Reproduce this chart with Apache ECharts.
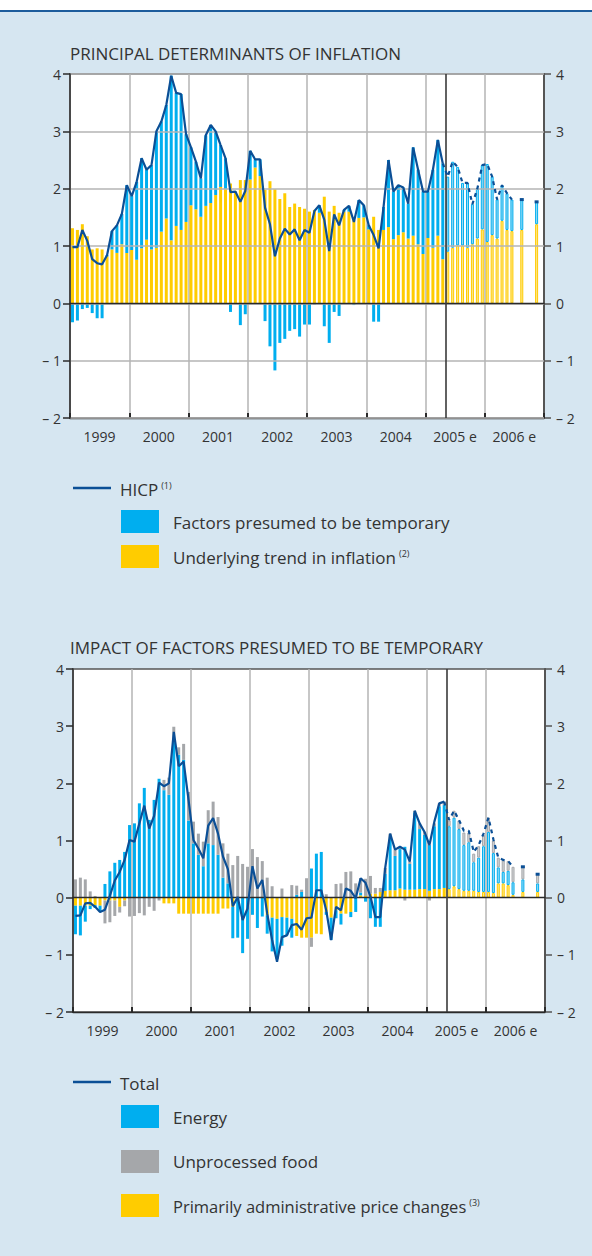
<!DOCTYPE html>
<html>
<head>
<meta charset="utf-8">
<script src="https://cdn.jsdelivr.net/npm/echarts@6/dist/echarts.min.js"></script>
<style>
html,body{margin:0;padding:0;background:#d6e6f1;}
#c{width:592px;height:1256px;}
</style>
</head>
<body>
<div id="c"></div>
<script>
// ---------- data ----------
const years = [1999, 2000, 2001, 2002, 2003, 2004, 2005, 2006];
const yearLabels = ['1999', '2000', '2001', '2002', '2003', '2004', '2005 e', '2006 e'];
const monthNames = ['Jan','Feb','Mar','Apr','May','Jun','Jul','Aug','Sep','Oct','Nov','Dec'];
const yTickLabels = ['– 2', '– 1', '0', '1', '2', '3', '4'];
const forecastStart = 76; // May 2005

// Panel 1: principal determinants of inflation
const underlyingTrend = [
 1.31,1.28,1.38,1.17,0.94,0.96,0.94,0.82,0.94,0.88,1.03,0.88,
 0.93,0.76,0.96,1.11,0.94,0.97,1.25,1.48,1.10,1.35,1.28,1.42,
 1.71,1.64,1.51,1.70,1.75,1.89,2.03,1.99,2.09,1.95,2.15,2.15,
 2.16,2.37,2.22,1.98,2.13,1.99,1.82,1.92,1.68,1.74,1.68,1.65,
 1.60,1.63,1.58,1.86,1.60,1.70,1.58,1.60,1.60,1.45,1.49,1.50,
 1.29,1.51,1.28,1.28,1.33,1.12,1.19,1.24,1.13,1.18,1.03,0.86,
 1.14,0.97,1.18,0.77,0.90,0.97,1.01,1.01,0.97,1.03,1.13,1.29,
 1.07,1.19,1.13,1.44,1.28,1.26,null,1.28,null,null,1.38,null];
const temporaryFactors = [
 -0.33,-0.30,-0.10,-0.08,-0.17,-0.26,-0.26,0.02,0.32,0.48,0.53,1.18,
 0.94,1.36,1.57,1.22,1.47,2.03,1.92,1.98,2.87,2.32,2.37,1.53,
 1.01,0.83,0.67,1.23,1.36,1.11,0.73,0.54,-0.15,0.00,-0.38,-0.19,
 0.50,0.14,0.29,-0.31,-0.75,-1.17,-0.69,-0.62,-0.48,-0.45,-0.58,-0.37,
 -0.37,-0.02,0.13,-0.40,-0.69,-0.15,-0.22,0.03,0.10,-0.03,0.31,0.21,
 0.07,-0.32,-0.32,0.40,1.17,0.83,0.87,0.78,0.61,1.54,1.30,1.09,
 0.81,1.36,1.67,1.67,1.31,1.50,1.37,1.09,1.13,0.70,0.87,1.12,
 1.36,1.02,0.68,0.62,0.64,0.55,null,0.53,null,null,0.39,null];
const hicp = [
 0.98,0.98,1.28,1.09,0.77,0.70,0.68,0.84,1.26,1.36,1.56,2.06,
 1.87,2.12,2.53,2.33,2.41,3.00,3.17,3.46,3.97,3.67,3.65,2.95,
 2.72,2.47,2.18,2.93,3.11,3.00,2.76,2.53,1.94,1.95,1.77,1.96,
 2.66,2.51,2.51,1.67,1.38,0.82,1.13,1.30,1.20,1.29,1.10,1.28,
 1.23,1.61,1.71,1.46,0.91,1.55,1.36,1.63,1.70,1.42,1.80,1.71,
 1.36,1.19,0.96,1.68,2.50,1.95,2.06,2.02,1.74,2.72,2.33,1.95,
 1.95,2.33,2.85,2.44,2.21,2.47,2.38,2.10,2.10,1.73,2.00,2.41,
 2.43,2.21,1.81,2.06,1.92,1.81,null,1.81,null,null,1.77,null];

// Panel 2: impact of factors presumed to be temporary
const energy = [
 -0.50,-0.52,-0.28,-0.06,-0.05,-0.10,0.24,0.46,0.61,0.66,0.80,1.27,
 1.30,1.65,1.92,1.36,1.71,2.08,1.88,1.80,2.75,2.50,2.41,1.35,
 0.95,0.75,0.55,0.95,0.92,0.75,0.35,0.25,-0.55,-0.70,-0.97,-0.72,
 -0.30,-0.53,-0.33,-0.32,-0.59,-0.70,-0.50,-0.31,-0.33,0.05,0.10,0.00,
 0.51,0.77,0.80,-0.05,-0.39,-0.14,-0.19,0.00,-0.09,-0.25,0.05,-0.07,
 -0.36,-0.51,-0.51,0.30,0.90,0.60,0.69,0.75,0.45,1.35,1.05,0.95,
 0.80,1.10,1.45,1.45,1.10,1.20,1.05,0.80,0.85,0.50,0.60,0.80,
 1.05,0.70,0.28,0.20,0.25,0.22,null,0.22,null,null,0.15,null];
const unprocessedFood = [
 0.32,0.35,0.32,0.11,0.03,0.00,-0.40,-0.38,-0.27,-0.10,-0.10,-0.33,
 -0.32,-0.27,-0.31,-0.16,-0.23,-0.05,0.18,0.30,0.24,0.13,0.28,0.50,
 0.38,0.37,0.43,0.58,0.76,0.66,0.60,0.52,0.57,0.73,0.59,0.54,
 0.85,0.71,0.64,0.35,0.20,0.00,0.16,0.00,0.22,0.16,0.04,0.34,
 -0.16,0.00,0.00,0.06,0.00,0.24,0.25,0.45,0.46,0.25,0.25,0.30,
 0.31,0.10,0.07,0.10,0.09,0.11,0.04,-0.05,0.04,0.03,0.10,0.05,
 -0.05,0.05,0.05,0.05,0.10,0.12,0.15,0.22,0.17,0.15,0.20,0.20,
 0.25,0.22,0.17,0.20,0.17,0.27,null,0.22,null,null,0.16,null];
const adminPrices = [
 -0.14,-0.14,-0.14,-0.14,-0.13,-0.14,-0.05,-0.05,-0.05,-0.16,-0.05,0.00,
 0.00,0.00,0.00,0.00,0.00,0.00,-0.10,-0.10,-0.10,-0.28,-0.28,-0.28,
 -0.28,-0.28,-0.28,-0.28,-0.28,-0.28,-0.19,-0.19,-0.16,0.00,0.00,0.00,
 0.00,0.00,0.00,-0.31,-0.35,-0.37,-0.34,-0.35,-0.37,-0.67,-0.70,-0.70,
 -0.70,-0.63,-0.64,-0.25,-0.35,-0.22,-0.28,-0.28,-0.25,0.00,0.04,0.03,
 0.07,0.07,0.10,0.12,0.13,0.13,0.16,0.14,0.14,0.14,0.15,0.15,
 0.12,0.15,0.15,0.17,0.15,0.20,0.15,0.12,0.12,0.12,0.10,0.10,
 0.10,0.08,0.25,0.25,0.22,0.05,null,0.10,null,null,0.10,null];
const totalTemporary = [
 -0.32,-0.31,-0.10,-0.09,-0.16,-0.25,-0.21,0.03,0.30,0.45,0.66,1.01,
 0.98,1.30,1.61,1.21,1.43,2.01,1.95,2.00,2.90,2.30,2.38,1.71,
 1.01,0.86,0.69,1.26,1.39,1.12,0.72,0.50,-0.15,0.01,-0.39,-0.19,
 0.55,0.16,0.31,-0.28,-0.74,-1.12,-0.69,-0.66,-0.48,-0.46,-0.56,-0.36,
 -0.35,0.13,0.13,-0.22,-0.74,-0.16,-0.22,0.16,0.12,-0.01,0.34,0.26,
 0.02,-0.34,-0.34,0.52,1.12,0.84,0.89,0.84,0.63,1.52,1.30,1.15,
 0.92,1.33,1.65,1.68,1.36,1.52,1.36,1.17,1.17,0.80,0.92,1.12,
 1.40,1.02,0.70,0.66,0.64,0.54,null,0.54,null,null,0.41,null];

// ---------- build ----------
const categories = [];
years.forEach(y => monthNames.forEach(m => categories.push(m + ' ' + y)));

const C = {
  bg: '#d6e6f1', blue: '#00aeef', blueLight: '#9adcf6', yellow: '#ffcc00', yellowLight: '#ffe68a',
  gray: '#a5a7aa', grayLight: '#d3d4d6', line: '#0b4f96', text: '#333333', grid: '#b4b4b4', axis: '#2a2a2a'
};
const FONT = '"Open Sans", "Noto Sans", sans-serif';

function barData(arr, col, light) {
  return arr.map((v, i) => {
    if (v == null) return null;
    if (i >= forecastStart) return { value: v, itemStyle: { color: light, borderColor: col, borderWidth: 1 } };
    return v;
  });
}
function lineSolid(arr) { return arr.map((v, i) => (i < forecastStart ? v : null)); }
function lineDashed(arr) {
  return arr.map((v, i) => {
    if (i < forecastStart - 1 || v == null) return null;
    const isolated = (arr[i - 1] == null) && (arr[i + 1] == null);
    return isolated ? { value: v, symbol: 'rect', symbolSize: [4, 3] } : { value: v, symbol: 'none' };
  });
}

function makeAxes(gi, showHSplit) {
  const xs = [
    { type: 'category', gridIndex: gi, data: categories, boundaryGap: true, position: 'bottom', z: 3,
      axisLine: { show: true, onZero: true, lineStyle: { color: C.axis, width: 1.3 } },
      axisTick: { show: false }, axisLabel: { show: false }, splitLine: { show: false } },
    { type: 'category', gridIndex: gi, data: yearLabels, boundaryGap: true, position: 'bottom',
      axisLine: { show: true, onZero: false, lineStyle: { color: C.axis, width: 1.3 } },
      axisTick: { show: true, inside: true, length: 5, lineStyle: { color: C.axis, width: 2 } },
      axisLabel: { color: C.text, fontSize: 14, fontFamily: FONT, margin: 11 },
      splitLine: { show: true, lineStyle: { color: C.grid, width: 1.5 } } }
  ];
  const common = { type: 'value', gridIndex: gi, min: -2, max: 4, interval: 1 };
  const ys = [
    Object.assign({}, common, { position: 'left', z: 3,
      axisLine: { show: true, lineStyle: { color: C.axis, width: 1.5 } },
      axisTick: { show: true, length: 7, lineStyle: { color: C.axis, width: 1.5 } },
      axisLabel: { color: C.text, fontSize: 14, fontFamily: FONT, margin: 9, formatter: v => yTickLabels[v + 2] },
      splitLine: { show: showHSplit, lineStyle: { color: C.grid, width: 1.5 } } }),
    Object.assign({}, common, { position: 'right',
      axisLine: { show: true, lineStyle: { color: '#555', width: 2 } },
      axisTick: { show: true, length: 7, lineStyle: { color: '#555', width: 1.5 } },
      axisLabel: { color: C.text, fontSize: 14, fontFamily: FONT, margin: 12, formatter: v => yTickLabels[v + 2] },
      splitLine: { show: false } })
  ];
  return { xs, ys };
}

const a0 = makeAxes(0, true);
const a1 = makeAxes(1, false);
// hidden month-position value axes (for the forecast boundary line)
const monthPos0 = { type: 'value', gridIndex: 0, min: 0, max: categories.length, show: false };
const monthPos1 = { type: 'value', gridIndex: 1, min: 0, max: categories.length, show: false };

function boundary(xAxisIndex, yAxisIndex) {
  return { type: 'line', xAxisIndex: xAxisIndex, yAxisIndex: yAxisIndex, data: [], z: 4, silent: true,
    markLine: { symbol: 'none', silent: true, label: { show: false }, animation: false,
      lineStyle: { color: '#3a3a3a', width: 1.6, type: 'solid' }, data: [{ xAxis: forecastStart }] } };
}

const series = [
  // panel 1
  { name: 'Underlying trend', type: 'bar', xAxisIndex: 0, yAxisIndex: 0, stack: 'p1', barWidth: 3,
    itemStyle: { color: C.yellow }, data: barData(underlyingTrend, C.yellow, C.yellowLight) },
  { name: 'Temporary factors', type: 'bar', xAxisIndex: 0, yAxisIndex: 0, stack: 'p1', barWidth: 3,
    itemStyle: { color: C.blue }, data: barData(temporaryFactors, C.blue, C.blueLight) },
  boundary(4, 0),
  { name: 'HICP', type: 'line', xAxisIndex: 0, yAxisIndex: 0, z: 5, symbol: 'none', connectNulls: false,
    lineStyle: { color: C.line, width: 2.2 }, itemStyle: { color: C.line }, data: lineSolid(hicp) },
  { name: 'HICP e', type: 'line', xAxisIndex: 0, yAxisIndex: 0, z: 5, symbol: 'rect', symbolSize: [4, 3], showSymbol: true, connectNulls: false,
    lineStyle: { color: C.line, width: 2.2, type: [4, 4] }, itemStyle: { color: C.line }, data: lineDashed(hicp) },
  // panel 2
  { name: 'Admin', type: 'bar', xAxisIndex: 2, yAxisIndex: 2, stack: 'p2', barWidth: 3,
    itemStyle: { color: C.yellow }, data: barData(adminPrices, C.yellow, C.yellowLight) },
  { name: 'Energy', type: 'bar', xAxisIndex: 2, yAxisIndex: 2, stack: 'p2', barWidth: 3,
    itemStyle: { color: C.blue }, data: barData(energy, C.blue, C.blueLight) },
  { name: 'Food', type: 'bar', xAxisIndex: 2, yAxisIndex: 2, stack: 'p2', barWidth: 3,
    itemStyle: { color: C.gray }, data: barData(unprocessedFood, C.gray, C.grayLight) },
  boundary(5, 2),
  { name: 'Total', type: 'line', xAxisIndex: 2, yAxisIndex: 2, z: 5, symbol: 'none', connectNulls: false,
    lineStyle: { color: C.line, width: 2.2 }, itemStyle: { color: C.line }, data: lineSolid(totalTemporary) },
  { name: 'Total e', type: 'line', xAxisIndex: 2, yAxisIndex: 2, z: 5, symbol: 'rect', symbolSize: [4, 3], showSymbol: true, connectNulls: false,
    lineStyle: { color: C.line, width: 2.2, type: [4, 4] }, itemStyle: { color: C.line }, data: lineDashed(totalTemporary) }
];

const RICH = { sup: { fontSize: 9, fontFamily: FONT, fill: C.text, color: C.text, verticalAlign: 'top', padding: [0, 0, 0, 3] } };
function txt(x, y, s, size) {
  return { type: 'text', x: x, y: y, silent: true,
    style: { text: s, fill: C.text, fontSize: size, fontFamily: FONT, verticalAlign: 'middle', rich: RICH } };
}
function box(x, y, w, h, col) { return { type: 'rect', silent: true, shape: { x: x, y: y, width: w, height: h }, style: { fill: col } }; }
function seg(x1, y, x2) { return { type: 'line', silent: true, shape: { x1: x1, y1: y, x2: x2, y2: y }, style: { stroke: C.line, lineWidth: 2.5 } }; }

const graphics = [
  { type: 'rect', silent: true, z: -10, shape: { x: 0, y: 0, width: 592, height: 10 }, style: { fill: '#ffffff' } },
  { type: 'rect', silent: true, z: -10, shape: { x: 0, y: 10, width: 592, height: 2 }, style: { fill: '#1d5c9c' } },
  txt(70, 53, 'PRINCIPAL DETERMINANTS OF INFLATION', 17),
  txt(70, 647, 'IMPACT OF FACTORS PRESUMED TO BE TEMPORARY', 17),
  // legend 1
  seg(73, 488, 111),
  txt(120, 489, 'HICP{sup|(1)}', 17),
  box(121, 510, 38, 23, C.blue), txt(173, 522, 'Factors presumed to be temporary', 17),
  box(121, 545, 38, 23, C.yellow), txt(173, 557, 'Underlying trend in inflation{sup|(2)}', 17),
  // legend 2
  seg(73, 1082, 111),
  txt(120, 1083, 'Total', 17),
  box(121, 1105, 38, 23, C.blue), txt(173, 1117, 'Energy', 17),
  box(121, 1150, 38, 23, C.gray), txt(173, 1161, 'Unprocessed food', 17),
  box(121, 1194, 38, 23, C.yellow), txt(173, 1206, 'Primarily administrative price changes{sup|(3)}', 16.5)
];

const option = {
  backgroundColor: C.bg,
  animation: false,
  grid: [
    { left: 70, right: 48, top: 74, height: 344, show: true, backgroundColor: '#ffffff', borderColor: '#555', borderWidth: 1.5 },
    { left: 73, right: 47, top: 669, height: 343, show: true, backgroundColor: '#ffffff', borderColor: '#555', borderWidth: 1.5 }
  ],
  xAxis: a0.xs.concat(a1.xs).concat([monthPos0, monthPos1]),
  yAxis: a0.ys.concat(a1.ys),
  series: series,
  graphic: graphics
};

const chart = echarts.init(document.getElementById('c'), null, { renderer: 'svg', width: 592, height: 1256 });
chart.setOption(option);
</script>
</body>
</html>
